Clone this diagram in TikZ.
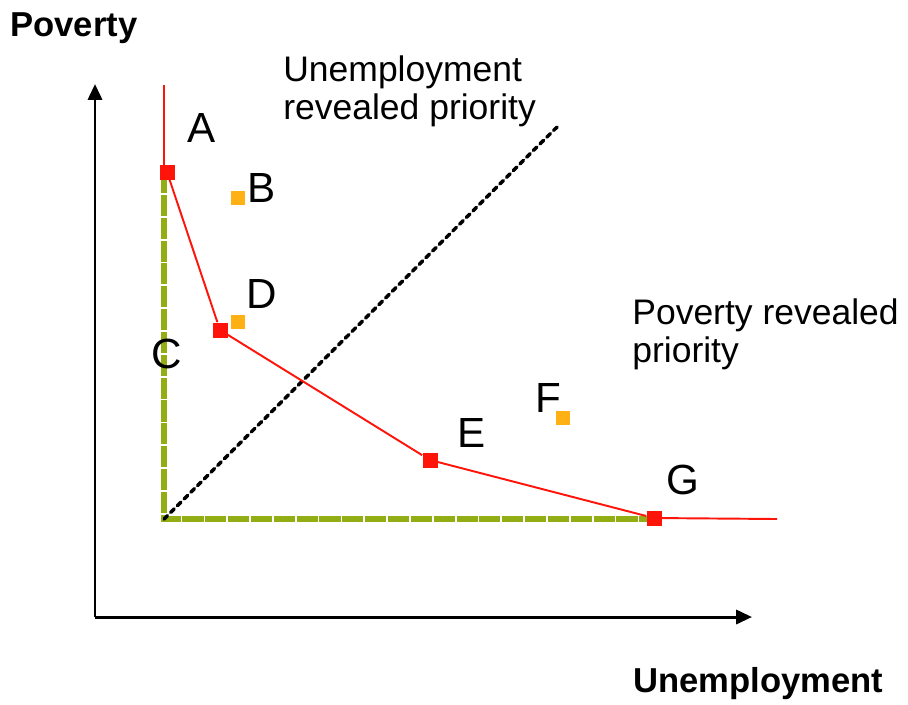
\documentclass[tikz,border=0pt]{standalone}
\usepackage{fontspec}
\setmainfont{Liberation Sans}
\usetikzlibrary{arrows.meta}
\definecolor{frontred}{RGB}{255,20,10}
\definecolor{pointorange}{RGB}{255,176,20}
\definecolor{boxgreen}{RGB}{146,174,20}
\begin{document}
\begin{tikzpicture}[x=0.02cm, y=-0.02cm,
    axis/.style={line width=1.7pt, -{Triangle[length=9pt,width=8pt]}},
    frontier/.style={frontred, line width=1.1pt},
    redpoint/.style={fill=frontred, inner sep=0pt, minimum size=0.3cm},
    orangepoint/.style={fill=pointorange, inner sep=0pt, minimum size=0.28cm},
    letter/.style={font=\fontsize{24}{28}\selectfont},
    caption/.style={font=\fontsize{20.2}{21.5}\selectfont, align=left, anchor=base west, inner sep=0pt},
    axislabel/.style={font=\fontsize{19.7}{22}\selectfont\bfseries, anchor=base west, inner sep=0pt}]
    \useasboundingbox (0,0) rectangle (908,704);

    \coordinate (origin) at (95,617);
    \coordinate (y_end) at (95,84);
    \coordinate (x_end) at (752,617);
    \coordinate (corner) at (164,519);
    \coordinate (front_top) at (164,85);
    \coordinate (front_bend) at (164,172);
    \coordinate (front_end) at (777,519);
    \coordinate (diag_end) at (557,127);

    % green box
    \draw[boxgreen, line width=3pt, dash pattern=on 12pt off 1pt]
        (front_bend) -- (corner) -- (654,519);

    % revealed priority line
    \draw[black, line width=2pt, line cap=round, dash pattern=on 2.8pt off 2.6pt]
        (corner) -- (diag_end);

    % axes
    \draw[axis] (origin) -- (y_end);
    \draw[axis] (origin) -- (x_end);

    \node[redpoint] (a_point) at (167,172) {};
    \node[redpoint] (c_point) at (220,330) {};
    \node[redpoint] (e_point) at (430,460) {};
    \node[redpoint] (g_point) at (654,518) {};
    \node[orangepoint] (b_point) at (238,198) {};
    \node[orangepoint] (d_point) at (238,322) {};
    \node[orangepoint] (f_point) at (563,418) {};

    \path[frontier]
        (front_top) edge (front_bend)
        (a_point) edge (c_point)
        (c_point) edge (e_point)
        (e_point) edge (g_point)
        (g_point) edge (front_end);

    \node[letter] (a_name) at (202,128) {A};
    \node[letter] (b_name) at (262,188) {B};
    \node[letter] (c_name) at (167,354) {C};
    \node[letter] (d_name) at (262,294) {D};
    \node[letter] (e_name) at (472,433) {E};
    \node[letter] (f_name) at (548,398) {F};
    \node[letter] (g_name) at (683,480) {G};

    \node[caption] (unemp_priority) at (283,119) {Unemployment\\revealed priority};
    \node[caption] (pov_priority) at (632,362) {Poverty revealed\\priority};
    \node[axislabel] (pov_name) at (10,36) {Poverty};
    \node[axislabel] (unemp_name) at (633,692) {Unemployment};
\end{tikzpicture}
\end{document}
